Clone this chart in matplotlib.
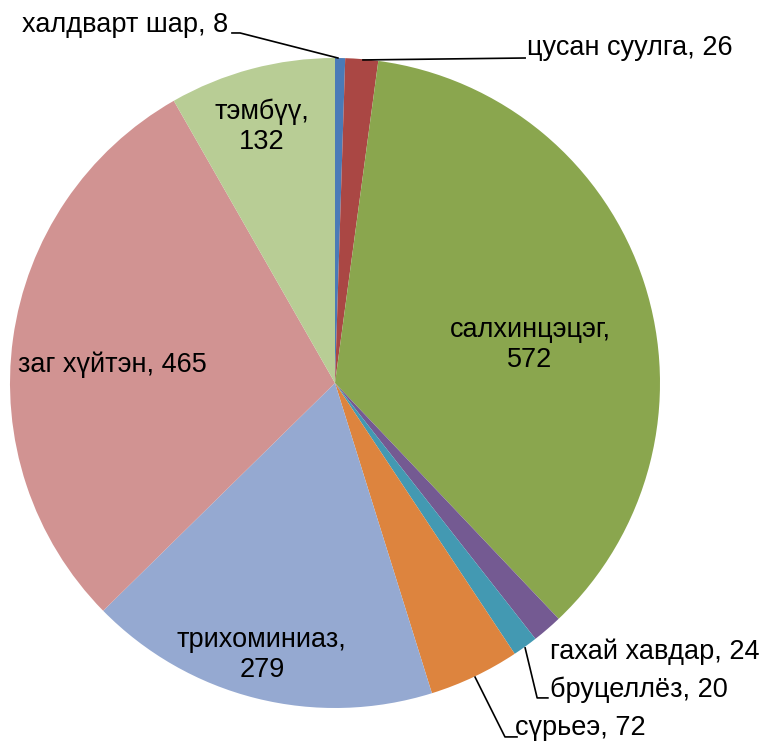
import matplotlib
matplotlib.use("Agg")
import matplotlib.pyplot as plt

plt.rcParams['font.family'] = ['Liberation Sans', 'DejaVu Sans']

categories = ["халдварт шар", "цусан суулга", "салхинцэцэг", "гахай хавдар",
              "бруцеллёз", "сүрьеэ", "трихоминиаз", "заг хүйтэн", "тэмбүү"]
values = [8, 26, 572, 24, 20, 72, 279, 465, 132]
colors = ["#4A7AB7", "#AA4744", "#8AA64E", "#745A92", "#4399B2", "#DD843E",
          "#95A9D1", "#D19392", "#B8CD95"]

# label layout (text, position, alignment)
label_text = [f"{c}, {v}" for c, v in zip(categories, values)]
label_text[2] = f"{categories[2]},\n{values[2]}"
label_text[6] = f"{categories[6]},\n{values[6]}"
label_text[8] = f"{categories[8]},\n{values[8]}"
label_pos = [(-0.329, 1.102), (0.591, 1.031), (0.60, 0.117), (0.662, -0.828),
             (0.662, -0.945), (0.554, -1.062), (-0.225, -0.837), (-0.686, 0.055),
             (-0.225, 0.788)]
label_ha = ["right", "left", "center", "left", "left", "left", "center", "center", "center"]
leaders = {
    0: [(-0.317, 1.077), (-0.292, 1.077), (0.009, 1.0)],
    1: [(0.086, 0.994), (0.585, 1.0)],
    4: [(0.585, -0.815), (0.622, -0.969), (0.655, -0.969)],
    5: [(0.431, -0.905), (0.523, -1.089), (0.560, -1.089)],
}

fig = plt.figure(figsize=(7.6, 7.43), dpi=100)
ax = fig.add_axes([10 / 760, 35 / 743, 650 / 760, 650 / 743])
ax.pie(values, colors=colors, startangle=90, counterclock=False,
       wedgeprops=dict(edgecolor="none", linewidth=0))
ax.set_xlim(-1, 1)
ax.set_ylim(-1, 1)
ax.set_aspect("equal")
ax.axis("off")

for i, (t, (x, y), ha) in enumerate(zip(label_text, label_pos, label_ha)):
    ax.text(x, y, t, ha=ha, va="center", fontsize=19.5, color="black",
            multialignment="center", linespacing=1.2, clip_on=False)

for i, pts in leaders.items():
    xs = [p[0] for p in pts]
    ys = [p[1] for p in pts]
    ax.plot(xs, ys, color="black", linewidth=1.2, clip_on=False)

fig.savefig("out.png", dpi=100)
